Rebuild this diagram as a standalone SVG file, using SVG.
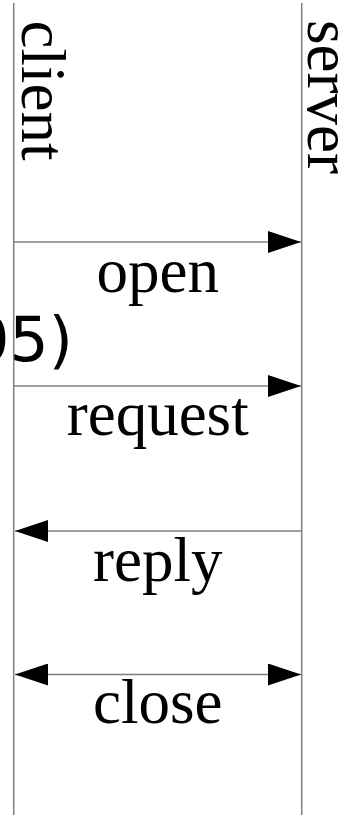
<svg xmlns="http://www.w3.org/2000/svg" width="343" height="815" viewBox="0 0 343 815">
  <style>
    .life { stroke: #808080; stroke-width: 1.5; fill: none; }
    .msg { stroke: #808080; stroke-width: 1.5; fill: none; }
    .lbl { font-family: "Liberation Serif", "Times New Roman", serif; font-size: 63px; fill: #000; }
    .note { font-family: "DejaVu Sans", sans-serif; font-size: 62px; fill: #000; }
  </style>
  <defs>
    <marker id="head" markerUnits="userSpaceOnUse" markerWidth="34" markerHeight="22" refX="33" refY="11" orient="auto-start-reverse" viewBox="0 0 34 22">
      <path d="M0,0 L33,11 L0,22 Z" fill="#000"/>
    </marker>
  </defs>

  <text class="note" x="73" y="361" text-anchor="end">05)</text>

  <g id="client">
    <line class="life" x1="13.7" y1="3" x2="13.7" y2="815"/>
    <text class="lbl" transform="translate(22,20.5) rotate(90)">client</text>
  </g>
  <g id="server">
    <line class="life" x1="301.7" y1="3" x2="301.7" y2="815"/>
    <text class="lbl" transform="translate(308,20) rotate(90)">server</text>
  </g>

  <g id="connectors">
    <g id="open">
      <line class="msg" x1="13.7" y1="242" x2="301" y2="242" marker-end="url(#head)"/>
      <text class="lbl" x="157.7" y="292" text-anchor="middle">open</text>
    </g>
    <g id="request">
      <line class="msg" x1="13.7" y1="386" x2="301" y2="386" marker-end="url(#head)"/>
      <text class="lbl" x="157.7" y="435" text-anchor="middle">request</text>
    </g>
    <g id="reply">
      <line class="msg" x1="15" y1="531" x2="301.7" y2="531" marker-start="url(#head)"/>
      <text class="lbl" x="157.7" y="581" text-anchor="middle">reply</text>
    </g>
    <g id="close">
      <line class="msg" x1="15" y1="674.5" x2="301" y2="674.5" marker-start="url(#head)" marker-end="url(#head)"/>
      <text class="lbl" x="157.7" y="723" text-anchor="middle">close</text>
    </g>
  </g>
</svg>
